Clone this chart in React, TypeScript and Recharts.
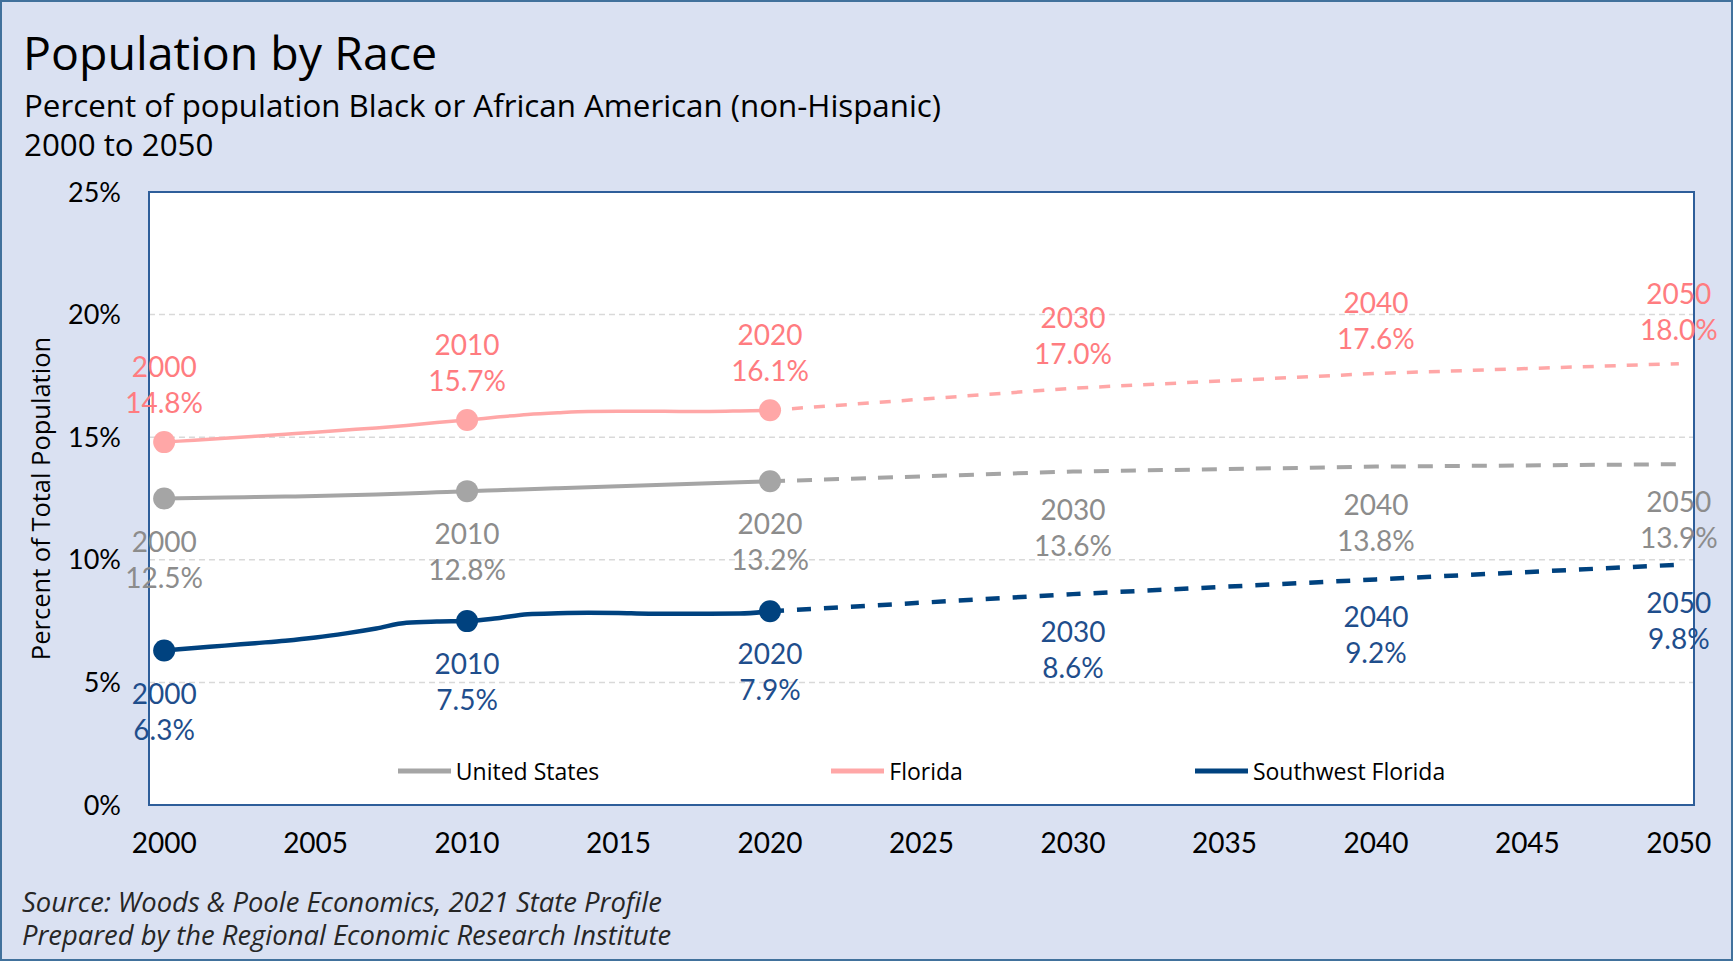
import { LineChart, Line, XAxis, YAxis, CartesianGrid, Legend, ReferenceArea, Label } from 'recharts';

// annual history, 2000-2020
const HIST_YEARS = [2000, 2001, 2002, 2003, 2004, 2005, 2006, 2007, 2008, 2009, 2010, 2011, 2012, 2013, 2014, 2015, 2016, 2017, 2018, 2019, 2020];
const US_HIST = [12.5, 12.52, 12.54, 12.56, 12.58, 12.6, 12.63, 12.66, 12.7, 12.75, 12.8, 12.84, 12.88, 12.92, 12.96, 13.0, 13.04, 13.08, 13.12, 13.16, 13.2];
const FL_HIST = [14.8, 14.88, 14.96, 15.04, 15.12, 15.2, 15.29, 15.38, 15.48, 15.6, 15.7, 15.82, 15.93, 16.0, 16.05, 16.06, 16.06, 16.05, 16.05, 16.07, 16.1];
const SW_HIST = [6.3, 6.4, 6.5, 6.6, 6.7, 6.83, 7.0, 7.2, 7.43, 7.48, 7.5, 7.62, 7.78, 7.82, 7.84, 7.83, 7.8, 7.8, 7.8, 7.81, 7.9];

// projections
const PROJ_YEARS = [2020, 2030, 2040, 2050];
const US_PROJ = [13.2, 13.6, 13.8, 13.9];
const FL_PROJ = [16.1, 17.0, 17.6, 18.0];
const SW_PROJ = [7.9, 8.6, 9.2, 9.8];

const MARKER_YEARS = [2000, 2010, 2020];
const X_TICKS = [2000, 2005, 2010, 2015, 2020, 2025, 2030, 2035, 2040, 2045, 2050];
const Y_TICKS = [0, 5, 10, 15, 20, 25];

const SERIES = [
  { key: 'us', name: 'United States', line: '#A5A5A5', text: '#8C8C8C', width: 4, dash: '15 12', above: false },
  { key: 'fl', name: 'Florida', line: '#FFA7A7', text: '#FF7C80', width: 3.5, dash: '11 11', above: true },
  { key: 'sw', name: 'Southwest Florida', line: '#00427F', text: '#1F4E8C', width: 4.5, dash: '14 13', above: false },
];

const hist: Record<string, number[]> = { us: US_HIST, fl: FL_HIST, sw: SW_HIST };
const proj: Record<string, number[]> = { us: US_PROJ, fl: FL_PROJ, sw: SW_PROJ };

const allYears = Array.from(new Set([...HIST_YEARS, ...PROJ_YEARS])).sort((a, b) => a - b);
const data = allYears.map(year => {
  const row: any = { year };
  const hi = HIST_YEARS.indexOf(year);
  const pi = PROJ_YEARS.indexOf(year);
  for (const s of SERIES) {
    row[s.key] = hi >= 0 ? hist[s.key][hi] : null;
    row[s.key + 'P'] = pi >= 0 ? proj[s.key][pi] : null;
  }
  return row;
});

const NUM_FONT = 'Lato, "Open Sans", sans-serif';
const TXT_FONT = '"Open Sans", Lato, sans-serif';

function PointLabel({ x, y, year, value, color, above, marker }: any) {
  const near = marker ? 40 : 35;
  const far = marker ? 76 : 71;
  const yearY = above ? y - far : y + near + 2;
  const valY = above ? y - near : y + far + 2;
  return (
    <g>
      <text x={x} y={yearY} textAnchor="middle" dominantBaseline="central" fill={color} fontSize={28} fontFamily={NUM_FONT}>{year}</text>
      <text x={x} y={valY} textAnchor="middle" dominantBaseline="central" fill={color} fontSize={28} fontFamily={NUM_FONT}>{value.toFixed(1)}%</text>
    </g>
  );
}

const histDot = (s: any) => (props: any) => {
  const { cx, cy, payload } = props;
  const k = `h-${s.key}-${payload?.year}`;
  if (cx == null || cy == null || !MARKER_YEARS.includes(payload.year)) return <g key={k} />;
  return (
    <g key={k}>
      <circle cx={cx} cy={cy} r={11} fill={s.line} />
      <PointLabel x={cx} y={cy} year={payload.year} value={payload[s.key]} color={s.text} above={s.above} marker />
    </g>
  );
};

const projDot = (s: any) => (props: any) => {
  const { cx, cy, payload } = props;
  const k = `p-${s.key}-${payload?.year}`;
  if (cx == null || cy == null || payload.year <= 2020) return <g key={k} />;
  return (
    <g key={k}>
      <PointLabel x={cx} y={cy} year={payload.year} value={payload[s.key + 'P']} color={s.text} above={s.above} marker={false} />
    </g>
  );
};

function LegendContent() {
  return (
    <div style={{ display: 'flex', justifyContent: 'center', gap: 232, fontFamily: TXT_FONT, fontSize: 23, color: '#000' }}>
      {SERIES.map(s => (
        <div key={s.key} style={{ display: 'flex', alignItems: 'center', gap: 5 }}>
          <svg width={53} height={10}><line x1={0} y1={5} x2={53} y2={5} stroke={s.line} strokeWidth={5} /></svg>
          <span>{s.name}</span>
        </div>
      ))}
    </div>
  );
}

export default function App() {
  return (
    <div style={{ position: 'absolute', left: 0, top: 0, width: 1733, height: 961, background: '#DAE1F2', fontFamily: TXT_FONT, overflow: 'hidden' }}>
      <div style={{ position: 'absolute', left: 23, top: 29, fontSize: 46.5, lineHeight: 1, color: '#000', whiteSpace: 'nowrap' }}>Population by Race</div>
      <div style={{ position: 'absolute', left: 24, top: 90, fontSize: 31.3, lineHeight: 1, color: '#000', whiteSpace: 'nowrap' }}>Percent of population Black or African American (non-Hispanic)</div>
      <div style={{ position: 'absolute', left: 24, top: 129, fontSize: 31.3, lineHeight: 1, color: '#000', whiteSpace: 'nowrap' }}>2000 to 2050</div>
      <div style={{ position: 'absolute', left: 0, top: 0 }}>
        <LineChart width={1733} height={961} data={data} margin={{ top: 192, right: 39, bottom: 96, left: 0 }}>
          <CartesianGrid vertical={false} stroke="#D9D9D9" strokeDasharray="6 4" strokeWidth={1.5} fill="#FFFFFF" />
          <XAxis
            dataKey="year"
            type="number"
            domain={[1999.5, 2050.5]}
            ticks={X_TICKS}
            height={60}
            tickSize={0}
            tickMargin={28}
            axisLine={false}
            tick={{ fontSize: 28, fill: '#000', fontFamily: NUM_FONT }}
          />
          <YAxis
            type="number"
            domain={[0, 25]}
            ticks={Y_TICKS}
            width={149}
            tickSize={0}
            tickMargin={28}
            axisLine={false}
            tickFormatter={(v: number) => `${v}%`}
            tick={{ fontSize: 27, fill: '#000', fontFamily: NUM_FONT }}
          >
            <Label
              content={({ viewBox }: any) => (
                <text
                  x={viewBox.x + 40}
                  y={viewBox.y + viewBox.height / 2}
                  transform={`rotate(-90 ${viewBox.x + 40} ${viewBox.y + viewBox.height / 2})`}
                  textAnchor="middle"
                  dominantBaseline="central"
                  fontSize={25.5}
                  fontFamily={TXT_FONT}
                  fill="#000"
                >
                  Percent of Total Population
                </text>
              )}
            />
          </YAxis>
          <ReferenceArea x1={1999.5} x2={2050.5} y1={0} y2={25} fill="none" stroke="#2E5E9A" strokeWidth={2} ifOverflow="visible" />
          {SERIES.map(s => (
            <Line
              key={s.key + 'P'}
              dataKey={s.key + 'P'}
              type="linear"
              stroke={s.line}
              strokeWidth={s.width}
              strokeDasharray={s.dash}
              dot={projDot(s)}
              activeDot={false}
              legendType="none"
              isAnimationActive={false}
            />
          ))}
          {SERIES.map(s => (
            <Line
              key={s.key}
              dataKey={s.key}
              name={s.name}
              type="monotone"
              stroke={s.line}
              strokeWidth={s.width}
              dot={histDot(s)}
              activeDot={false}
              isAnimationActive={false}
            />
          ))}
          <Legend
            layout="horizontal"
            verticalAlign="middle"
            align="center"
            wrapperStyle={{ position: 'absolute', top: 755, left: 149, width: 1545, height: 30 }}
            content={() => <LegendContent />}
          />
        </LineChart>
      </div>
      <div style={{ position: 'absolute', left: 22, top: 888, fontSize: 27.4, lineHeight: 1, fontStyle: 'italic', color: '#262626', whiteSpace: 'nowrap' }}>Source: Woods &amp; Poole Economics, 2021 State Profile</div>
      <div style={{ position: 'absolute', left: 22, top: 921, fontSize: 27.4, lineHeight: 1, fontStyle: 'italic', color: '#262626', whiteSpace: 'nowrap' }}>Prepared by the Regional Economic Research Institute</div>
      <div style={{ position: 'absolute', inset: 0, border: '2px solid #41719C', pointerEvents: 'none' }} />
    </div>
  );
}
